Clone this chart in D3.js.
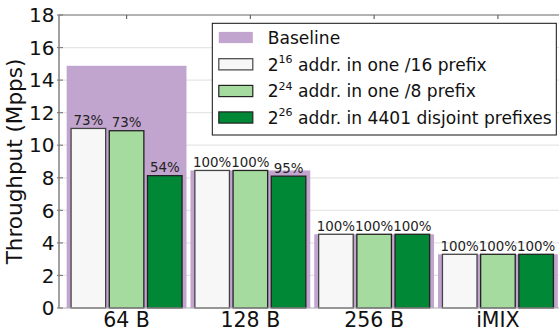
<!DOCTYPE html>
<html><head><meta charset="utf-8">
<script src="https://cdn.jsdelivr.net/npm/d3@7/dist/d3.min.js"></script>
<style>body{margin:0;background:#fff}svg{display:block}text{font-family:"DejaVu Sans",sans-serif}</style>
</head><body>
<svg id="c" width="559" height="331"></svg>
<script>
const categories = ["64 B", "128 B", "256 B", "iMIX"];
const baseline = [14.88, 8.45, 4.53, 3.30];
const s16 = [11.03, 8.45, 4.53, 3.30];
const s24 = [10.89, 8.45, 4.53, 3.30];
const s26 = [8.13, 8.10, 4.53, 3.30];
const pct16 = ["73%", "100%", "100%", "100%"];
const pct24 = ["73%", "100%", "100%", "100%"];
const pct26 = ["54%", "95%", "100%", "100%"];
const yTicks = [0, 2, 4, 6, 8, 10, 12, 14, 16, 18];
const seriesNames = ["s16", "s24", "s26"];
const legendBase = ["Baseline", "2", "2", "2"];
const legendSup = ["", "16", "24", "26"];
const legendRest = ["", " addr. in one /16 prefix", " addr. in one /8 prefix", " addr. in 4401 disjoint prefixes"];

const colors = {base: "#c2a5cf", s16: "#f7f7f7", s24: "#a6dba0", s26: "#008837"};
const svg = d3.select("#c");
const L = 59, T = 15, B = 308;

const y = d3.scaleLinear().domain([0, 18]).range([B, T]);
const x = d3.scaleBand().domain(categories).range([L, 565.5]).paddingInner(4/124).paddingOuter(0.062);
const xi = d3.scaleBand().domain(seriesNames).range([4.4, x.bandwidth() - 4.4]).paddingInner(0.095);

// grid
svg.append("g").selectAll("line").data(yTicks.filter(d => d > 0 && d < 18)).join("line")
  .attr("x1", L).attr("x2", 559).attr("y1", d => y(d)).attr("y2", d => y(d))
  .attr("stroke", "#e6e6e6").attr("stroke-width", 1.2);

// baseline bars
svg.append("g").selectAll("rect").data(categories).join("rect")
  .attr("x", d => x(d)).attr("width", x.bandwidth())
  .attr("y", (d, i) => y(baseline[i])).attr("height", (d, i) => B - y(baseline[i]))
  .attr("fill", colors.base);

const series = {s16: [s16, pct16], s24: [s24, pct24], s26: [s26, pct26]};
seriesNames.forEach(s => {
  const [vals, pcts] = series[s];
  const g = svg.append("g");
  g.selectAll("rect").data(categories).join("rect")
    .attr("x", d => x(d) + xi(s)).attr("width", xi.bandwidth())
    .attr("y", (d, i) => y(vals[i])).attr("height", (d, i) => B - y(vals[i]))
    .attr("fill", colors[s]).attr("stroke", s === "s16" ? "#444" : "#222").attr("stroke-width", 1.3);
  g.selectAll("text").data(categories).join("text")
    .attr("x", d => x(d) + xi(s) + xi.bandwidth() / 2)
    .attr("y", (d, i) => y(vals[i]) - 3.5)
    .attr("text-anchor", "middle").attr("font-size", 13.4).attr("fill", "#222")
    .text((d, i) => pcts[i]);
});

// spines
svg.append("line").attr("x1", L).attr("x2", 559).attr("y1", T).attr("y2", T).attr("stroke", "#999").attr("stroke-width", 1.5);
svg.append("line").attr("x1", L).attr("x2", L).attr("y1", T).attr("y2", B).attr("stroke", "#808080").attr("stroke-width", 1.5);
svg.append("line").attr("x1", L).attr("x2", 559).attr("y1", B).attr("y2", B).attr("stroke", "#aaa").attr("stroke-width", 1);

// y ticks
const yt = svg.append("g");
yt.selectAll("line").data(yTicks).join("line")
  .attr("x1", L - 2).attr("x2", L + 4).attr("y1", d => y(d)).attr("y2", d => y(d))
  .attr("stroke", "#808080").attr("stroke-width", 1.2);
yt.selectAll("text").data(yTicks).join("text")
  .attr("x", L - 4.5).attr("y", d => y(d)).attr("dy", "0.36em")
  .attr("text-anchor", "end").attr("font-size", 20).attr("fill", "#111").text(d => d);

// top ticks & x labels
svg.append("g").selectAll("line").data(categories).join("line")
  .attr("x1", d => x(d) + x.bandwidth() / 2).attr("x2", d => x(d) + x.bandwidth() / 2)
  .attr("y1", T).attr("y2", T + 4).attr("stroke", "#666").attr("stroke-width", 1.2);
svg.append("g").selectAll("text").data(categories).join("text")
  .attr("x", d => x(d) + x.bandwidth() / 2).attr("y", 327)
  .attr("text-anchor", "middle").attr("font-size", 20.5).attr("fill", "#111").text(d => d);

// y title
svg.append("text").attr("transform", "translate(22," + ((T + B) / 2) + ") rotate(-90)")
  .attr("text-anchor", "middle").attr("font-size", 21.5).attr("fill", "#111").text("Throughput (Mpps)");

// legend
const lg = svg.append("g");
lg.append("rect").attr("x", 212.3).attr("y", 23.3).attr("width", 344).attr("height", 111.7)
  .attr("fill", "#fff").attr("stroke", "#111").attr("stroke-width", 1);
const legendFill = [colors.base, colors.s16, colors.s24, colors.s26];
const rowY = [37.5, 64.3, 91, 117.5];
legendBase.forEach((t, i) => {
  lg.append("rect").attr("x", 218.8).attr("y", rowY[i] - 5.6).attr("width", 34).attr("height", 11.2)
    .attr("fill", legendFill[i])
    .attr("stroke", i === 0 ? "none" : (i === 1 ? "#444" : "#222")).attr("stroke-width", 1.2);
  const tx = lg.append("text").attr("x", 267.7).attr("y", rowY[i] + 6.3).attr("font-size", 17.1).attr("fill", "#111");
  tx.append("tspan").text(t);
  if (legendSup[i]) {
    tx.append("tspan").attr("font-size", 11).attr("dy", -7.5).text(legendSup[i]);
    tx.append("tspan").attr("dy", 7.5).text(legendRest[i]);
  }
});
</script>
</body></html>
